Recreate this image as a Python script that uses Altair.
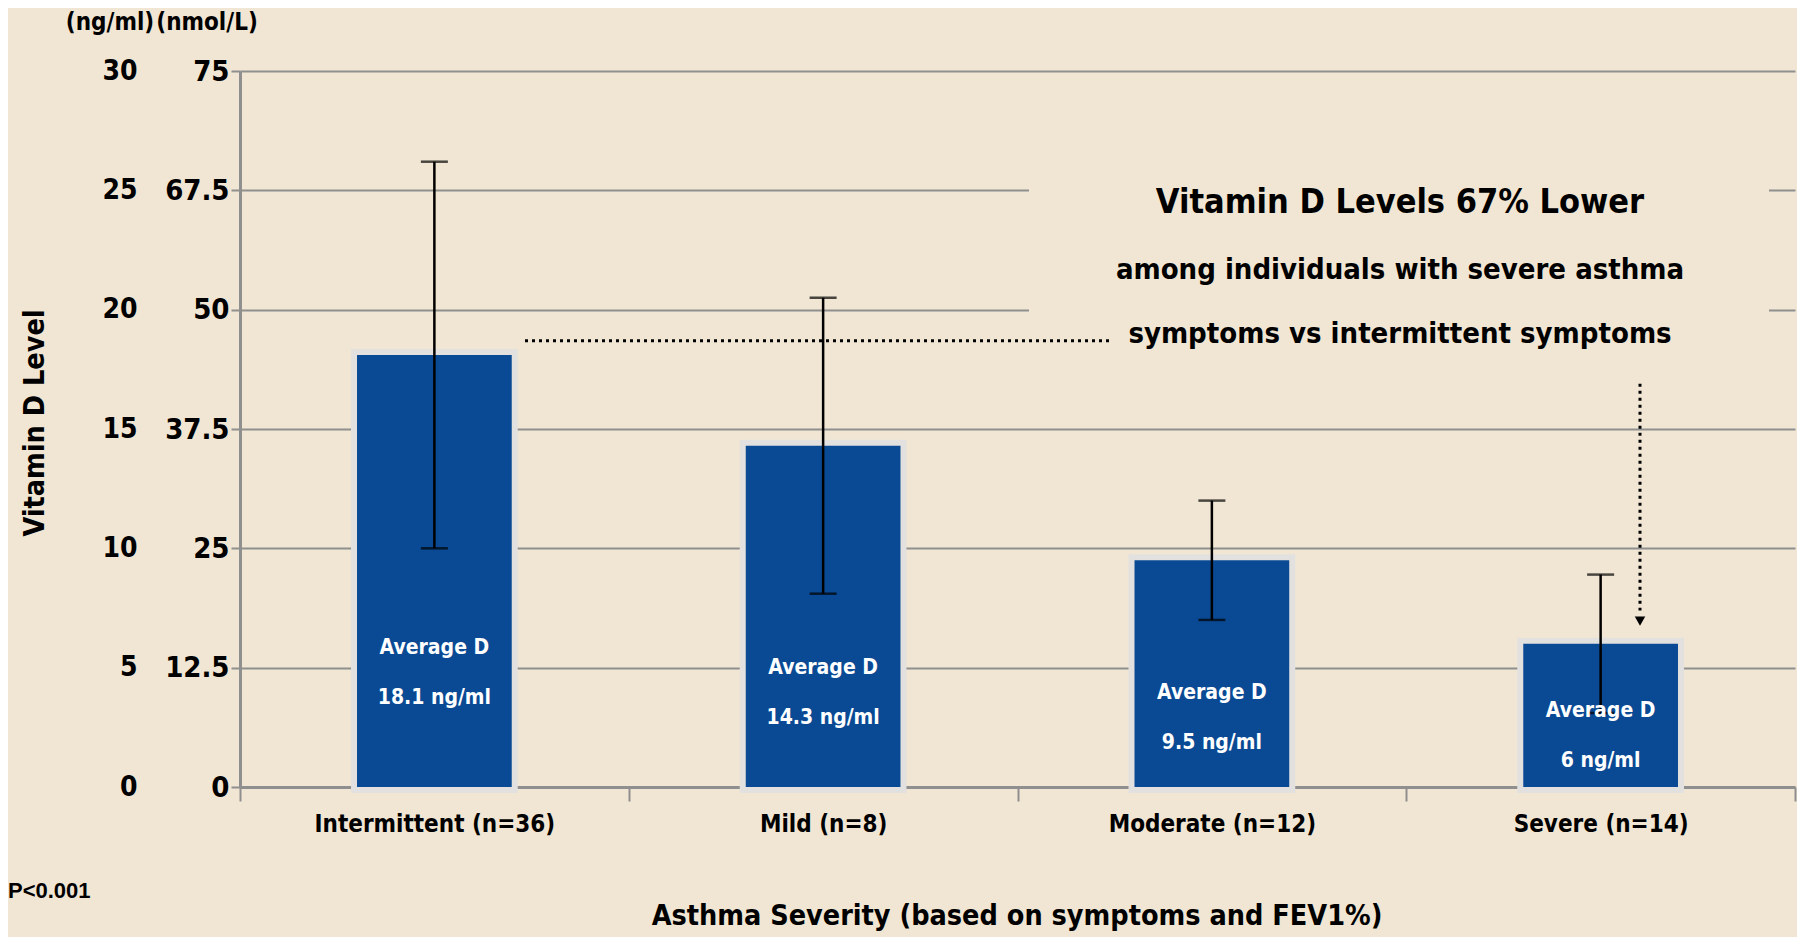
import altair as alt
import pandas as pd

categories = ["Intermittent (n=36)", "Mild (n=8)", "Moderate (n=12)", "Severe (n=14)"]
means = [18.1, 14.3, 9.5, 6.0]
err_low = [10.0, 8.1, 7.0, 3.1]
err_high = [26.2, 20.5, 12.0, 8.9]
bar_labels = ["Average D\n18.1 ng/ml", "Average D\n14.3 ng/ml", "Average D\n9.5 ng/ml", "Average D\n6 ng/ml"]
ng_ticks = [0, 5, 10, 15, 20, 25, 30]
nmol_labels = ["0", "12.5", "25", "37.5", "50", "67.5", "75"]

FONT = "DejaVu Sans Condensed, Roboto Condensed, Roboto, sans-serif"
BG = "#f1e6d3"
BLUE = "#0a4a94"
GRID = "#8f8f8f"

df = pd.DataFrame({"cat": categories, "mean": means, "lo": err_low, "hi": err_high, "lab": bar_labels})

W, H = 1555, 716
ydom = [0, 30]

nmol_expr = "[" + ",".join("'" + s + "'" for s in nmol_labels) + "][indexof([" + ",".join(str(t) for t in ng_ticks) + "], datum.value)]"

xenc = alt.X("cat:N", sort=categories, scale=alt.Scale(paddingInner=0, paddingOuter=0),
             axis=alt.Axis(title=None, tickBand="extent", labelAngle=0, labelFont=FONT,
                           labelFontSize=24, labelFontWeight="bold", labelColor="black", labelLimit=0,
                           tickSize=14, tickColor=GRID, tickWidth=2, labelPadding=11,
                           domainColor=GRID, domainWidth=3, grid=False))

def yq(field, axis=None):
    return alt.Y(field, type="quantitative", scale=alt.Scale(domain=ydom, nice=False, zero=True), axis=axis)

base = alt.Chart(df)

# gridline break behind annotation
brk = alt.Chart(pd.DataFrame({"a": [0]})).mark_rect(color=BG).encode(
    x=alt.value(789), x2=alt.value(1529),
    y=alt.datum(26.0, type="quantitative", scale=alt.Scale(domain=ydom, nice=False), axis=None),
    y2=alt.datum(19.4))

halo = base.mark_bar(width=alt.RelativeBandSize(0.398), color="#e2e1df", stroke="#e2e1df", strokeWidth=12).encode(
    x=xenc,
    y=yq("mean", alt.Axis(orient="left", offset=103, values=ng_ticks, domain=False, ticks=False, grid=False,
                          labelPadding=0, labelFont=FONT, labelFontSize=28, labelFontWeight="bold",
                          labelColor="black", title=None)))

bars = base.mark_bar(width=alt.RelativeBandSize(0.398), color=BLUE).encode(
    x=alt.X("cat:N", sort=categories),
    y=yq("mean", alt.Axis(orient="left", values=ng_ticks, labelExpr=nmol_expr, grid=True,
                          gridColor=GRID, gridWidth=2, domainColor=GRID, domainWidth=3,
                          tickColor=GRID, tickWidth=2, tickSize=9, labelPadding=2,
                          labelFont=FONT, labelFontSize=29, labelFontWeight="bold",
                          labelColor="black", title=None)))

err_rule = base.mark_rule(color="black", strokeWidth=2.5).encode(
    x=alt.X("cat:N", sort=categories), y=yq("lo"), y2="hi")
err_cap_hi = base.mark_tick(color="black", thickness=2.5, size=27, orient="horizontal").encode(
    x=alt.X("cat:N", sort=categories), y=yq("hi"))
err_cap_lo = base.mark_tick(color="black", thickness=2.5, size=27, orient="horizontal").encode(
    x=alt.X("cat:N", sort=categories), y=yq("lo"))

labels = base.transform_calculate(ly="2.36 + 0.2167 * datum.mean").mark_text(
    font=FONT, fontSize=21, fontWeight="bold", color="white", baseline="top", lineBreak="\n", lineHeight=50
).encode(x=alt.X("cat:N", sort=categories), y=yq("ly:Q"), text="lab:N")

one = pd.DataFrame({"a": [0]})
hline = alt.Chart(one).mark_rule(color="black", strokeWidth=3, strokeDash=[3, 4]).encode(
    x=alt.value(285), x2=alt.value(869),
    y=alt.datum(18.7, type="quantitative", scale=alt.Scale(domain=ydom, nice=False), axis=None))
vline = alt.Chart(one).mark_rule(color="black", strokeWidth=3, strokeDash=[3, 4]).encode(
    x=alt.value(1400),
    y=alt.datum(16.9, type="quantitative", scale=alt.Scale(domain=ydom, nice=False), axis=None),
    y2=alt.datum(7.4))
arrow = alt.Chart(one).mark_point(shape="triangle-down", filled=True, color="black", size=110, opacity=1).encode(
    x=alt.value(1400),
    y=alt.datum(6.95, type="quantitative", scale=alt.Scale(domain=ydom, nice=False), axis=None))

def txt(s, x, y, size, align="center", font=FONT, angle=0):
    return alt.Chart(one).mark_text(text=s, font=font, fontSize=size, fontWeight="bold", color="black",
                                    align=align, baseline="middle", angle=angle).encode(
        x=alt.value(x), y=alt.value(y))

annots = [
    txt("Vitamin D Levels 67% Lower", 1160, 132, 34),
    txt("among individuals with severe asthma", 1160, 199, 29),
    txt("symptoms vs intermittent symptoms", 1160, 263, 29),
    txt("(ng/ml)", -130, -48, 24),
    txt("(nmol/L)", -33, -48, 24),
    txt("Vitamin D Level", -205, 352, 28.5, angle=270),
    txt("Asthma Severity (based on symptoms and FEV1%)", 777, 845, 28.5),
    txt("P<0.001", -232, 820, 22, align="left", font="Liberation Sans"),
]

chart = alt.layer(brk, halo, bars, err_rule, err_cap_hi, err_cap_lo, labels, hline, vline, arrow, *annots).resolve_scale(
    y="independent").properties(
    width=W, height=H, background=BG,
    autosize=alt.AutoSizeParams(type="none"),
    padding={"left": 232, "top": 63, "right": 2, "bottom": 150},
).configure_view(stroke=None)

chart.save("out.html", embed_options={"renderer": "svg", "actions": False})
